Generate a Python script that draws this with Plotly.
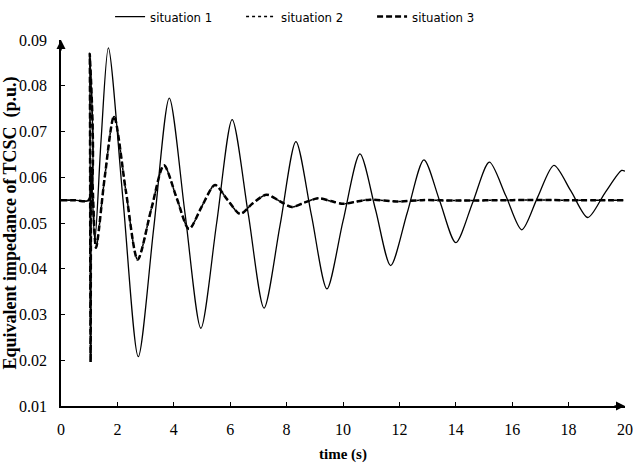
import plotly.graph_objects as go

# ---- data ----
t1 = [0, 0.5, 0.98, 1.02, 1.05, 1.08, 1.2, 1.42, 1.68, 2.2, 2.74, 3.29, 3.84, 4.4, 4.96,
      5.52, 6.07, 6.64, 7.2, 7.77, 8.33, 8.88, 9.43, 10.0, 10.6, 11.15, 11.69, 12.28,
      12.87, 13.43, 14.0, 14.6, 15.19, 15.77, 16.34, 16.9, 17.48, 18.08, 18.68, 19.28,
      19.88, 20.0]
s1 = [0.055, 0.055, 0.055, 0.087, 0.020, 0.060, 0.046, 0.068, 0.0883, 0.055, 0.0208, 0.049,
      0.0773, 0.052, 0.027, 0.050, 0.0726, 0.052, 0.0314, 0.0496, 0.0678, 0.0517, 0.0356,
      0.0504, 0.0651, 0.053, 0.0407, 0.0523, 0.0638, 0.0548, 0.0457, 0.0545, 0.0633,
      0.056, 0.0485, 0.0556, 0.0626, 0.057, 0.0512, 0.0565, 0.0615, 0.0613]

t3 = [0, 0.5, 0.98, 1.02, 1.05, 1.09, 1.24, 1.55, 1.88, 2.3, 2.72, 3.2, 3.65, 4.1, 4.54,
      5.0, 5.46, 5.9, 6.35, 6.8, 7.29, 7.75, 8.18, 8.65, 9.12, 9.56, 10.01, 10.5, 10.96,
      11.9, 12.8, 14.0, 16.0, 18.0, 20.0]
s3 = [0.055, 0.055, 0.055, 0.087, 0.0196, 0.062, 0.0446, 0.060, 0.0733, 0.057, 0.042,
      0.053, 0.0626, 0.0555, 0.0487, 0.0537, 0.0583, 0.0551, 0.052, 0.0543, 0.0562, 0.0548,
      0.0535, 0.0545, 0.0554, 0.0548, 0.0542, 0.0547, 0.0551, 0.0547, 0.055, 0.0549,
      0.055, 0.055, 0.055]

# situation 2 lies under situation 3 in the reference
t2 = list(t3)
s2 = list(s3)

names = ["situation 1", "situation 2", "situation 3"]
x_ticks = [0, 2, 4, 6, 8, 10, 12, 14, 16, 18, 20]
y_ticks = [0.01, 0.02, 0.03, 0.04, 0.05, 0.06, 0.07, 0.08, 0.09]

fig = go.Figure()
fig.add_trace(go.Scatter(x=t1, y=s1, name=names[0], mode="lines",
                         line=dict(color="black", width=1.3, shape="spline", smoothing=0.8)))
fig.add_trace(go.Scatter(x=t2, y=s2, name=names[1], mode="lines",
                         line=dict(color="black", width=1.5, dash="dot", shape="spline", smoothing=0.8)))
fig.add_trace(go.Scatter(x=t3, y=s3, name=names[2], mode="lines",
                         line=dict(color="black", width=2.5, dash="6px,3px", shape="spline", smoothing=0.8)))

serif = "Liberation Serif, Times New Roman, serif"

fig.update_layout(
    width=633, height=463,
    margin=dict(l=61, r=8, t=40, b=57, autoexpand=False),
    paper_bgcolor="white", plot_bgcolor="white",
    showlegend=True,
    legend=dict(orientation="h", x=0.087, xanchor="left", y=1.064, yanchor="middle",
                font=dict(family="DejaVu Sans Condensed, Liberation Sans Narrow, Liberation Sans", size=13, color="black"),
                traceorder="normal", entrywidth=86, entrywidthmode="pixels",
                itemwidth=30, bgcolor="rgba(0,0,0,0)"),
    xaxis=dict(range=[0, 20], tickvals=x_ticks, ticktext=[str(v) for v in x_ticks],
               showgrid=False, zeroline=False, showline=True, linecolor="black", linewidth=1.5,
               ticks="inside", ticklen=4, tickcolor="black", automargin=False,
               ticklabelstandoff=8,
               tickfont=dict(family=serif, size=16, color="black"),
               title=dict(text="<b>time (s)</b>", font=dict(family=serif, size=15, color="black"), standoff=14)),
    yaxis=dict(range=[0.01, 0.09], tickvals=y_ticks, ticktext=[f"{v:.2f}" for v in y_ticks],
               showgrid=False, zeroline=False, showline=True, linecolor="black", linewidth=1.5,
               ticks="inside", ticklen=4, tickcolor="black", automargin=False,
               ticklabelstandoff=9,
               tickfont=dict(family=serif, size=16, color="black"),
               title=dict(text="<b>Equivalent impedance of TCSC  (p.u.)</b>",
                          font=dict(family=serif, size=18, color="black"), standoff=4)),
)

# axis arrowheads
fig.add_annotation(x=20, y=0.01, xref="x", yref="y", ax=-12, ay=0, axref="pixel", ayref="pixel",
                   text="", showarrow=True, arrowhead=2, arrowsize=1.2, arrowwidth=1.5, arrowcolor="black")
fig.add_annotation(x=0, y=0.09, xref="x", yref="y", ax=0, ay=12, axref="pixel", ayref="pixel",
                   text="", showarrow=True, arrowhead=2, arrowsize=1.2, arrowwidth=1.5, arrowcolor="black")

fig.write_html("out.html", config={"displayModeBar": False},
               post_script="document.body.style.margin='0';document.body.style.overflow='hidden';")
